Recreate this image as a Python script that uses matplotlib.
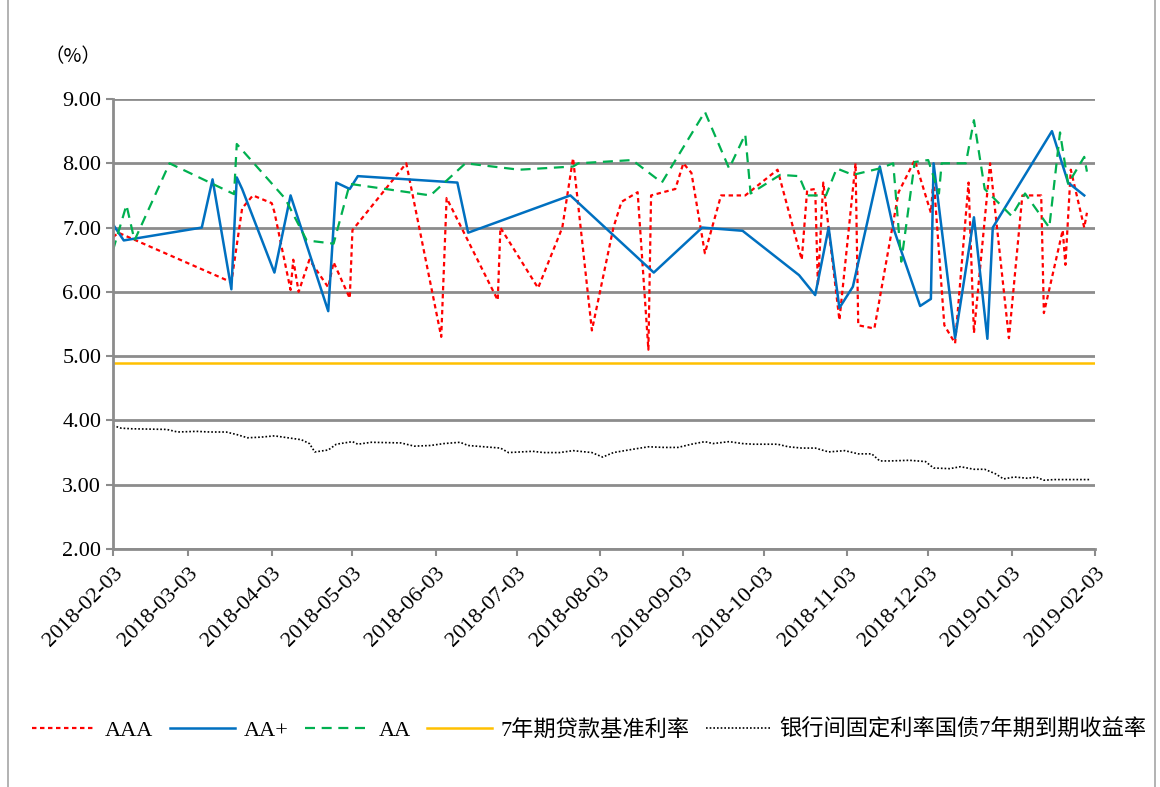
import matplotlib
matplotlib.use("Agg")
import matplotlib.pyplot as plt
import matplotlib.dates as mdates
from matplotlib.patches import Rectangle
import numpy as np
import pandas as pd

plt.rcParams['font.family'] = ['Liberation Serif', 'Noto Sans CJK SC']

start = pd.Timestamp("2018-02-03")

# days since 2018-02-03, yield in %
aaa_day = [0, 2, 44, 48, 52, 59, 60, 66, 67, 69, 73, 80, 82, 88, 89, 109, 122, 124,
           143, 144, 158, 167, 171, 178, 186, 189, 195, 199, 200, 209, 212, 215, 220,
           226, 235, 247, 256, 258, 261, 262, 264, 270, 276, 277, 283, 292, 298, 304,
           305, 309, 313, 318, 320, 326, 333, 338, 345, 346, 353, 354, 356, 361, 362]
aaa_val = [6.85, 6.92, 6.15, 7.30, 7.50, 7.38, 7.24, 6.03, 6.50, 6.00, 6.50, 6.07, 6.46,
           5.90, 6.96, 8.00, 5.30, 7.46, 5.87, 7.00, 6.06, 7.00, 8.08, 5.40, 7.00, 7.40,
           7.55, 5.10, 7.50, 7.60, 8.00, 7.85, 6.60, 7.50, 7.50, 7.90, 6.50, 7.58, 7.60,
           6.10, 7.70, 5.56, 8.00, 5.48, 5.43, 7.55, 8.05, 7.23, 7.77, 5.48, 5.20, 7.70,
           5.36, 8.00, 5.28, 7.50, 7.50, 5.67, 6.96, 6.42, 7.90, 7.00, 7.23]

aap_day = [0, 4, 33, 37, 44, 46, 48, 60, 66, 80, 83, 88, 91, 128, 132, 170, 201, 219,
           234, 255, 261, 266, 270, 275, 285, 290, 300, 304, 305, 313, 320, 325, 327,
           349, 355, 358, 361]
aap_val = [7.05, 6.80, 7.00, 7.75, 6.04, 7.78, 7.60, 6.30, 7.50, 5.70, 7.70, 7.60, 7.80,
           7.70, 6.92, 7.50, 6.30, 7.00, 6.95, 6.26, 5.95, 7.00, 5.75, 6.08, 7.95, 7.00,
           5.78, 5.89, 8.00, 5.28, 7.16, 5.27, 7.00, 8.50, 7.70, 7.60, 7.50]

aa_day = [0, 5, 8, 21, 45, 46, 64, 72, 82, 88, 118, 131, 151, 171, 173, 193, 204, 220,
          229, 235, 237, 248, 255, 258, 265, 269, 275, 285, 290, 293, 298, 303, 307,
          308, 317, 320, 324, 334, 339, 348, 352, 355, 361, 362]
aa_val = [6.65, 7.35, 6.80, 8.00, 7.52, 8.30, 7.45, 6.80, 6.75, 7.68, 7.50, 8.00, 7.90,
          7.95, 8.00, 8.05, 7.70, 8.80, 7.92, 8.45, 7.53, 7.82, 7.80, 7.50, 7.50, 7.92,
          7.82, 7.92, 8.00, 6.47, 8.02, 8.05, 7.53, 8.00, 8.00, 8.67, 7.60, 7.18, 7.53,
          7.00, 8.48, 7.68, 8.10, 7.87]

loan_day = [0, 365]
loan_val = [4.90, 4.90]

gov_day = [0, 3, 7, 20, 24, 31, 36, 42, 46, 50, 55, 60, 65, 70, 73, 75, 80, 83, 89, 91,
           96, 107, 112, 118, 123, 129, 132, 144, 147, 156, 160, 166, 171, 178, 182,
           186, 193, 199, 205, 210, 215, 220, 223, 229, 234, 238, 247, 251, 256, 261,
           266, 272, 277, 282, 285, 289, 296, 302, 305, 311, 315, 320, 324, 328, 331,
           335, 340, 343, 346, 350, 363]
gov_val = [3.92, 3.88, 3.87, 3.86, 3.82, 3.83, 3.82, 3.82, 3.78, 3.73, 3.74, 3.76, 3.73,
           3.70, 3.64, 3.51, 3.54, 3.63, 3.67, 3.63, 3.66, 3.65, 3.60, 3.61, 3.64, 3.66,
           3.61, 3.57, 3.50, 3.52, 3.50, 3.50, 3.53, 3.50, 3.43, 3.50, 3.55, 3.59, 3.58,
           3.58, 3.63, 3.67, 3.64, 3.67, 3.64, 3.63, 3.63, 3.59, 3.57, 3.57, 3.51, 3.53,
           3.48, 3.48, 3.37, 3.37, 3.38, 3.36, 3.26, 3.25, 3.28, 3.24, 3.24, 3.17, 3.09,
           3.12, 3.10, 3.12, 3.07, 3.08, 3.08]

labels = ["AAA", "AA+", "AA", "7年期贷款基准利率", "银行间固定利率国债7年期到期收益率"]


def to_dates(days):
    return start + pd.to_timedelta(days, unit="D")


fig = plt.figure(figsize=(11.6, 7.87), dpi=100)
ax = fig.add_axes([113/1160, 1-549/787, 982/1160, 450/787])

ax.plot(to_dates(aaa_day), aaa_val, color="#FF0000", lw=1.6, ls=(0, (2, 1.6)), label=labels[0])
ax.plot(to_dates(aap_day), aap_val, color="#0070C0", lw=1.8, label=labels[1])
ax.plot(to_dates(aa_day), aa_val, color="#00B050", lw=1.6, ls=(0, (4.5, 3)), label=labels[2])
ax.plot(to_dates(loan_day), loan_val, color="#FFC000", lw=1.8, label=labels[3])
ax.plot(to_dates(gov_day), gov_val, color="black", lw=1.2, ls=(0, (1, 1.2)), label=labels[4])

ax.set_ylim(2, 9)
ax.set_yticks(np.arange(2, 9.01, 1))
ax.yaxis.set_major_formatter(matplotlib.ticker.FormatStrFormatter("%.2f"))
ax.set_xlim(start, pd.Timestamp("2019-02-03"))
ticks = [start + pd.DateOffset(months=i) for i in range(13)]
ax.set_xticks(ticks)
ax.xaxis.set_major_formatter(mdates.DateFormatter("%Y-%m-%d"))
for lab in ax.get_xticklabels():
    lab.set_rotation(45)
    lab.set_ha("right")
    lab.set_rotation_mode("anchor")

ax.grid(axis="y", color="#8c8c8c", lw=2)
ax.set_axisbelow(True)
for s in ["top", "right"]:
    ax.spines[s].set_visible(False)
ax.spines["left"].set_color("#8c8c8c")
ax.spines["left"].set_linewidth(2)
ax.spines["bottom"].set_color("#8c8c8c")
ax.spines["bottom"].set_linewidth(2)
ax.tick_params(axis="both", labelsize=16, color="#8c8c8c", width=1.5, length=5)
ax.tick_params(axis="x", pad=6)

fig.text(73/1160, 1-57/787, "（%）", fontsize=14, ha="center", va="center",
         family=["Noto Sans CJK SC"])

fig.legend(loc="center", bbox_to_anchor=(0.508, 1-730/787), ncol=5, frameon=False,
           fontsize=16, handlelength=2.9, columnspacing=0.75, handletextpad=0.4)

fig.add_artist(Rectangle((8/1160, -0.01), 1147/1160, 1.02, transform=fig.transFigure,
                         fill=False, edgecolor="#a6a6a6", lw=1.2))

fig.savefig("out.png", dpi=100)
